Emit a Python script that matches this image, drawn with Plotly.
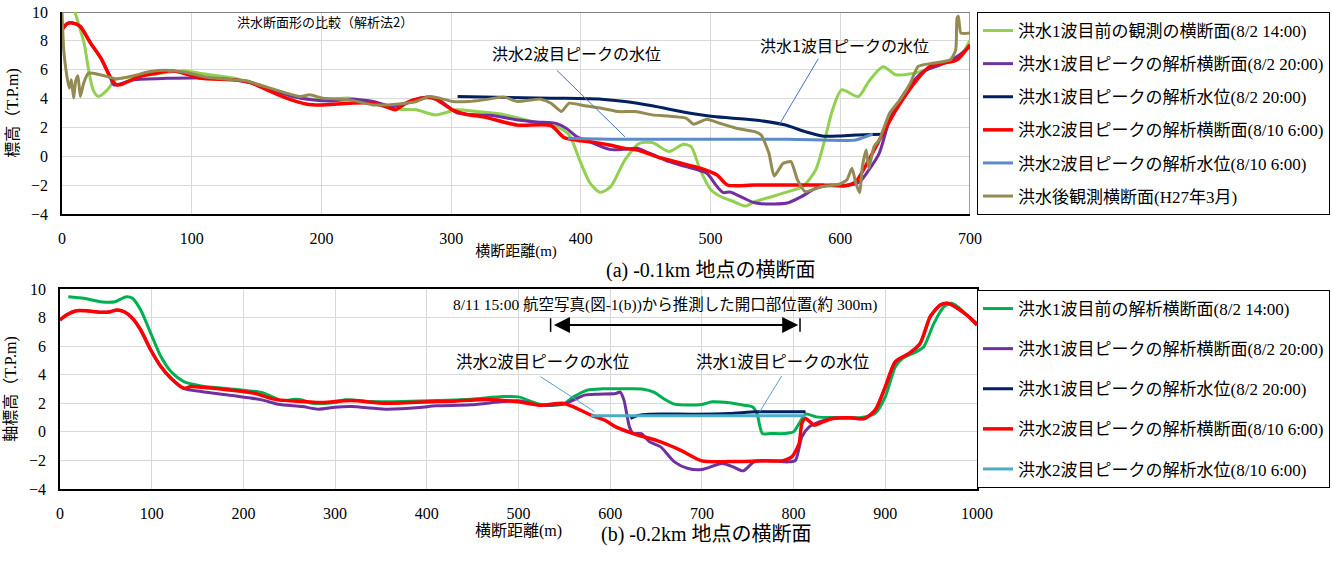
import plotly.graph_objects as go

W, H = 1332, 563

# ---------------- (a) -0.1km ----------------
a_names = [
    "洪水1波目前の観測の横断面(8/2 14:00)",
    "洪水1波目ピークの解析横断面(8/2 20:00)",
    "洪水1波目ピークの解析水位(8/2 20:00)",
    "洪水2波目ピークの解析横断面(8/10 6:00)",
    "洪水2波目ピークの解析水位(8/10 6:00)",
    "洪水後観測横断面(H27年3月)",
]
a_colors = ["#92D050", "#7030A0", "#002060", "#FF0000", "#5B8BC9", "#948A54"]

a_green_x = [5, 10, 17, 20.5, 24, 28, 35, 41, 47, 68, 94, 106, 132, 158, 178, 199, 222, 242, 260, 273, 288, 304, 320, 337, 363, 381, 391, 399, 407, 415, 423, 434, 445, 455, 468, 479, 485, 492, 500, 507, 518, 527, 534, 547, 560, 571, 581, 588, 594, 601, 614, 622, 633, 643, 661, 679, 692, 700]
a_green_y = [11.5, 10.0, 7.85, 6.0, 4.6, 4.14, 4.6, 5.3, 5.42, 5.65, 5.93, 5.76, 5.42, 4.72, 4.14, 3.9, 4.03, 3.68, 3.26, 3.22, 2.87, 3.22, 3.1, 2.95, 2.4, 2.05, 1.47, -0.25, -1.85, -2.5, -2.1, -0.25, 0.9, 0.95, 0.33, 0.83, 0.67, -0.95, -2.3, -2.75, -3.15, -3.45, -3.15, -2.8, -2.45, -2.1, -0.95, 1.13, 3.2, 4.6, 4.14, 5.19, 6.2, 5.65, 5.85, 6.43, 6.9, 8.05]

a_purple_x = [0, 4, 8, 14, 22, 30, 37, 40, 55, 81, 106, 132, 147, 163, 178, 194, 209, 224, 240, 255, 265, 276, 288, 296, 304, 311, 330, 350, 366, 381, 389, 397, 407, 422, 433, 443, 453, 468, 481, 497, 505, 510, 515, 526, 534, 549, 560, 570, 581, 591, 607, 615, 622, 630, 638, 646, 654, 664, 677, 690, 700]
a_purple_y = [8.77, 9.19, 9.24, 9.0, 7.85, 6.8, 5.53, 4.95, 5.3, 5.4, 5.42, 5.3, 5.07, 4.6, 4.14, 3.9, 3.84, 3.96, 3.8, 3.45, 3.68, 4.03, 4.07, 3.56, 3.03, 2.92, 2.84, 2.54, 2.38, 2.27, 1.93, 1.35, 1.0, 0.48, 0.48, 0.55, 0.21, -0.37, -0.72, -1.18, -2.1, -2.52, -2.47, -2.92, -3.22, -3.31, -3.22, -2.8, -2.22, -2.0, -2.0, -1.76, -0.95, 0.21, 2.52, 3.9, 4.95, 5.88, 6.34, 6.92, 7.6]

a_navy_x = [305, 377, 416, 434, 455, 481, 502, 534, 557, 573, 586, 599, 612, 633]
a_navy_y = [4.14, 4.03, 3.96, 3.8, 3.5, 3.03, 2.75, 2.52, 2.18, 1.71, 1.41, 1.41, 1.48, 1.53]

a_red_x = [0, 4, 8, 14, 22, 30, 37, 42, 47, 60, 73, 83, 94, 106, 132, 145, 158, 173, 188, 199, 222, 240, 253, 257, 263, 271, 281, 288, 301, 312, 325, 351, 377, 387, 398, 408, 421, 434, 445, 461, 476, 492, 505, 513, 534, 586, 604, 612, 622, 633, 643, 659, 669, 680, 690, 700]
a_red_y = [8.77, 9.19, 9.24, 9.0, 7.85, 6.8, 5.53, 4.95, 5.02, 5.53, 5.76, 5.93, 5.76, 5.42, 5.3, 5.12, 4.6, 4.03, 3.63, 3.56, 3.68, 3.68, 3.33, 3.22, 3.56, 3.9, 4.07, 3.96, 3.22, 2.9, 2.73, 2.16, 2.13, 1.3, 1.1, 1.0, 0.8, 0.55, 0.4, -0.1, -0.45, -0.83, -1.3, -1.99, -1.99, -1.99, -2.04, -1.76, -0.25, 1.6, 3.22, 5.3, 6.23, 6.46, 6.69, 7.73]

a_lblue_x = [390, 429, 481, 560, 612, 620, 625]
a_lblue_y = [1.25, 1.18, 1.18, 1.18, 1.13, 1.37, 1.55]

a_brown_x = [0, 1.3, 3.8, 5.6, 7.2, 9, 10.5, 12.3, 14.1, 16.7, 20.5, 29.5, 42, 55, 68, 83, 96, 111, 132, 142, 158, 173, 183, 191, 201, 222, 240, 260, 273, 283, 291, 301, 314, 325, 341, 351, 369, 377, 385, 391, 403, 416, 429, 442, 455, 481, 487, 497, 507, 520, 534, 539, 545, 549, 556, 562, 567, 573, 586, 599, 605, 609, 612, 615, 617, 620, 622, 626, 630, 638, 646, 654, 660, 672, 685, 689, 690, 691, 693, 700]
a_brown_y = [10, 7.4, 5.53, 4.72, 5.3, 4.03, 5.2, 5.58, 4.14, 5.07, 5.76, 5.65, 5.37, 5.58, 5.88, 5.95, 5.81, 5.49, 5.3, 5.23, 4.79, 4.38, 4.14, 4.26, 4.03, 3.91, 3.56, 3.63, 3.8, 4.14, 4.03, 3.8, 3.8, 3.91, 4.1, 3.8, 3.96, 3.68, 3.1, 3.68, 3.5, 3.33, 3.1, 3.1, 2.87, 2.64, 2.22, 2.57, 2.29, 1.94, 1.71, 1.48, 0.21, -1.37, -0.49, -0.37, -1.64, -2.45, -2.1, -1.94, -1.64, -0.83, -1.87, -2.52, -0.72, 0.44, -0.83, 0.67, 1.13, 2.99, 3.91, 5.07, 6.23, 6.46, 6.69, 7.38, 9.58, 9.7, 8.54, 8.54]

# ---------------- (b) -0.2km ----------------
b_names = [
    "洪水1波目前の解析横断面(8/2 14:00)",
    "洪水1波目ピークの解析横断面(8/2 20:00)",
    "洪水1波目ピークの解析水位(8/2 20:00)",
    "洪水2波目ピークの解析横断面(8/10 6:00)",
    "洪水2波目ピークの解析水位(8/10 6:00)",
]
b_colors = ["#00B050", "#7030A0", "#002060", "#FF0000", "#4BACC6"]

b_green_x = [9, 26, 44, 60, 68, 73, 79, 88, 99, 110, 121, 135, 154, 190, 220, 231, 242, 256, 264, 275, 300, 311, 337, 373, 411, 448, 483, 500, 515, 526, 549, 560, 575, 591, 617, 636, 647, 658, 670, 700, 711, 730, 745, 755, 760, 766, 775, 791, 800, 806, 813, 825, 843, 874, 889, 900, 911, 919, 934, 942, 953, 964, 972, 979, 991, 1000]
b_green_y = [9.46, 9.35, 9.11, 9.11, 9.35, 9.46, 9.35, 8.53, 6.9, 5.27, 4.22, 3.52, 3.22, 2.98, 2.75, 2.47, 2.19, 2.28, 2.24, 2.0, 2.05, 2.24, 2.12, 2.12, 2.19, 2.28, 2.47, 2.45, 2.1, 1.87, 1.94, 2.45, 2.92, 3.01, 3.01, 2.99, 2.8, 2.34, 1.94, 1.92, 2.1, 2.03, 1.87, 1.75, 1.29, -0.12, -0.12, -0.12, 0.0, 0.58, 1.24, 1.05, 1.0, 1.0, 1.29, 2.45, 4.56, 5.14, 5.61, 5.96, 7.59, 8.76, 9.0, 8.76, 8.06, 7.59]

b_purple_x = [0, 7, 18, 29, 44, 55, 62, 70, 79, 88, 99, 110, 121, 135, 154, 190, 220, 238, 264, 282, 300, 318, 355, 392, 410, 448, 483, 500, 523, 549, 560, 572, 587, 606, 611, 615, 621, 625, 634, 643, 655, 670, 685, 700, 722, 734, 745, 757, 775, 794, 802, 809, 817, 828, 843, 862, 877, 889, 900, 911, 926, 938, 949, 960, 968, 979, 991, 1000]
b_purple_y = [7.83, 8.18, 8.48, 8.48, 8.37, 8.41, 8.53, 8.41, 7.95, 7.13, 5.73, 4.57, 3.75, 3.05, 2.82, 2.52, 2.24, 1.93, 1.77, 1.59, 1.73, 1.77, 1.59, 1.70, 1.82, 1.89, 2.12, 2.17, 1.87, 1.94, 2.22, 2.57, 2.64, 2.69, 2.78, 2.22, 0.35, -0.12, -0.12, -0.7, -1.05, -2.1, -2.57, -2.64, -2.22, -2.45, -2.73, -2.1, -2.03, -2.1, -1.99, -0.35, 0.35, 0.7, 0.96, 0.98, 0.93, 1.52, 3.15, 4.91, 5.49, 6.19, 8.06, 8.88, 9.0, 8.64, 8.06, 7.48]

b_navy_x = [622, 630, 643, 692, 730, 760, 806, 813]
b_navy_y = [0.95, 1.15, 1.24, 1.24, 1.29, 1.4, 1.4, 1.4]

b_red_x = [0, 7, 18, 29, 44, 55, 62, 70, 79, 88, 99, 110, 121, 135, 143, 154, 190, 212, 227, 238, 264, 282, 318, 355, 410, 428, 466, 500, 523, 549, 560, 579, 594, 606, 625, 655, 677, 700, 730, 768, 787, 798, 806, 809, 813, 818, 822, 832, 843, 862, 877, 889, 900, 911, 926, 938, 949, 960, 968, 979, 991, 1000]
b_red_y = [7.83, 8.18, 8.48, 8.48, 8.37, 8.41, 8.53, 8.41, 7.95, 7.13, 5.73, 4.57, 3.75, 3.05, 3.17, 3.12, 2.89, 2.7, 2.4, 2.24, 2.12, 2.05, 2.19, 2.0, 2.12, 2.15, 2.27, 2.1, 1.87, 1.99, 1.75, 1.17, 0.82, 0.35, -0.12, -0.7, -1.29, -2.03, -2.08, -2.03, -2.03, -1.75, -0.82, 0.58, 0.93, 0.7, 0.47, 0.7, 0.93, 0.98, 0.93, 1.52, 3.15, 4.91, 5.49, 6.19, 8.06, 8.88, 9.0, 8.64, 8.06, 7.48]

b_lblue_x = [579, 700, 813]
b_lblue_y = [1.12, 1.12, 1.12]

x_ticks_a = [0, 100, 200, 300, 400, 500, 600, 700]
x_ticks_b = [0, 100, 200, 300, 400, 500, 600, 700, 800, 900, 1000]
y_ticks = [-4, -2, 0, 2, 4, 6, 8, 10]

SERIF = "Liberation Serif, Noto Sans CJK JP"
SANS = "Noto Sans CJK JP"


def px(x):
    return x / W


def py(y):
    return 1 - y / H


fig = go.Figure()

a_data = [(a_green_x, a_green_y), (a_purple_x, a_purple_y), (a_navy_x, a_navy_y),
          (a_red_x, a_red_y), (a_lblue_x, a_lblue_y), (a_brown_x, a_brown_y)]
a_widths = [3, 3, 3, 3.5, 3, 3]
for i, ((xs, ys), nm, c, w) in enumerate(zip(a_data, a_names, a_colors, a_widths)):
    fig.add_trace(go.Scatter(
        x=xs, y=ys, name=nm, mode="lines",
        line=dict(color=c, width=w, shape="spline", smoothing=0.7 if i != 5 else 0.5),
        xaxis="x", yaxis="y", legend="legend", legendgroup="a%d" % i,
    ))

b_data = [(b_green_x, b_green_y), (b_purple_x, b_purple_y), (b_navy_x, b_navy_y),
          (b_red_x, b_red_y), (b_lblue_x, b_lblue_y)]
b_widths = [3, 3, 3, 3.5, 3]
for i, ((xs, ys), nm, c, w) in enumerate(zip(b_data, b_names, b_colors, b_widths)):
    fig.add_trace(go.Scatter(
        x=xs, y=ys, name=nm, mode="lines",
        line=dict(color=c, width=w, shape="spline", smoothing=0.7),
        xaxis="x2", yaxis="y2", legend="legend2", legendgroup="b%d" % i,
    ))

grid = "#D9D9D9"
common_x = dict(showgrid=True, gridcolor=grid, gridwidth=1, zeroline=False,
                showline=True, linecolor="black", linewidth=1.5, ticks="",
                tickfont=dict(family=SERIF, size=16, color="black"),
                ticklabelstandoff=9, automargin=False)
common_y = dict(showgrid=True, gridcolor=grid, gridwidth=1, zeroline=False,
                showline=True, linecolor="black", linewidth=1.5, ticks="",
                range=[-4, 10], tickvals=y_ticks,
                tickfont=dict(family=SERIF, size=16, color="black"),
                ticklabelstandoff=9, automargin=False)

fig.update_layout(
    width=W, height=H,
    margin=dict(l=0, r=0, t=0, b=0),
    paper_bgcolor="white", plot_bgcolor="white",
    xaxis=dict(domain=[px(62), px(970)], range=[0, 700], tickvals=x_ticks_a, anchor="y",
               title=dict(text="横断距離(m)", font=dict(family=SERIF, size=15, color="black"), standoff=0),
               **common_x),
    yaxis=dict(domain=[py(214), py(12)], anchor="x",
               title=dict(text="標高（T.P.m)", font=dict(family=SERIF, size=16, color="black"), standoff=8),
               **common_y),
    xaxis2=dict(domain=[px(60), px(977)], range=[0, 1000], tickvals=x_ticks_b, anchor="y2",
                mirror=True,
                title=dict(text="横断距離(m)", font=dict(family=SERIF, size=16, color="black"), standoff=0),
                **common_x),
    yaxis2=dict(domain=[py(489), py(289)], anchor="x2", mirror=True,
                title=dict(text="軸標高（T.P.m)", font=dict(family=SERIF, size=16, color="black"), standoff=8),
                **common_y),
    legend=dict(x=px(977), y=py(12), xanchor="left", yanchor="top",
                bordercolor="black", borderwidth=1, bgcolor="white",
                font=dict(family=SERIF, size=17, color="black"),
                traceorder="grouped", tracegroupgap=8),
    legend2=dict(x=px(977), y=py(290), xanchor="left", yanchor="top",
                 bordercolor="black", borderwidth=1, bgcolor="white",
                 font=dict(family=SERIF, size=17, color="black"),
                 traceorder="grouped", tracegroupgap=15),
    showlegend=True,
)

# gray top/right border of panel (a)
fig.add_shape(type="line", xref="x", yref="y", x0=0, x1=700, y0=10, y1=10,
              line=dict(color="#808080", width=2), layer="between")
fig.add_shape(type="line", xref="x", yref="y", x0=700, x1=700, y0=-4, y1=10,
              line=dict(color="#808080", width=1.5), layer="between")

# leader lines panel (a)
fig.add_shape(type="line", xref="x", yref="y", x0=381.6, y0=5.95, x1=434, y1=1.35,
              line=dict(color="#4472C4", width=1))
fig.add_shape(type="line", xref="x", yref="y", x0=583, y0=6.75, x1=553, y1=2.2,
              line=dict(color="#4472C4", width=1))
fig.add_annotation(xref="x", yref="y", x=397, y=7.17, text="洪水2波目ピークの水位",
                   showarrow=False, font=dict(family=SANS, size=16, color="black"))
fig.add_annotation(xref="x", yref="y", x=603, y=7.73, text="洪水1波目ピークの水位",
                   showarrow=False, font=dict(family=SANS, size=16, color="black"))

# leader lines panel (b)
fig.add_shape(type="line", xref="x2", yref="y2", x0=524, y0=3.86, x1=583, y1=1.41,
              line=dict(color="#5B9BD5", width=1))
fig.add_shape(type="line", xref="x2", yref="y2", x0=787, y0=3.91, x1=763, y1=1.41,
              line=dict(color="#5B9BD5", width=1))
fig.add_annotation(xref="x2", yref="y2", x=526, y=4.89, text="洪水2波目ピークの水位",
                   showarrow=False, font=dict(family=SERIF, size=16.5, color="black"))
fig.add_annotation(xref="x2", yref="y2", x=788, y=4.89, text="洪水1波目ピークの水位",
                   showarrow=False, font=dict(family=SERIF, size=16.5, color="black"))

# opening-width arrow panel (b)
fig.add_annotation(xref="x2", yref="y2", axref="x2", ayref="y2",
                   x=805, y=7.48, ax=537, ay=7.48, text="", showarrow=True,
                   arrowside="end+start", arrowhead=2, arrowsize=1.6, arrowwidth=2,
                   arrowcolor="black")
fig.add_shape(type="line", xref="x2", yref="y2", x0=535, x1=535, y0=7.0, y1=7.95,
              line=dict(color="black", width=1.5))
fig.add_shape(type="line", xref="x2", yref="y2", x0=807, x1=807, y0=7.0, y1=7.95,
              line=dict(color="black", width=1.5))
fig.add_annotation(xref="x2", yref="y2", x=660, y=8.88,
                   text="8/11 15:00 航空写真(図-1(b))から推測した開口部位置(約 300m)",
                   showarrow=False, font=dict(family=SERIF, size=15.5, color="black"))

# captions
fig.add_annotation(xref="paper", yref="paper", x=px(710), y=py(270),
                   text="(a) -0.1km 地点の横断面", showarrow=False,
                   font=dict(family=SERIF, size=20, color="black"))
fig.add_annotation(xref="paper", yref="paper", x=px(707), y=py(548),
                   text="(b) -0.2km 地点の横断面", showarrow=False,
                   font=dict(family=SERIF, size=20, color="black"))
# heading (cut off at the page top in the reference) placed in the free upper-left area
fig.add_annotation(xref="paper", yref="paper", x=px(235), y=py(22), yanchor="middle",
                   text="洪水断面形の比較（解析法2）", showarrow=False,
                   font=dict(family=SANS, size=13, color="black"))

fig.write_html("out.html", config={"displayModeBar": False},
               post_script="document.body.style.margin='0';")
